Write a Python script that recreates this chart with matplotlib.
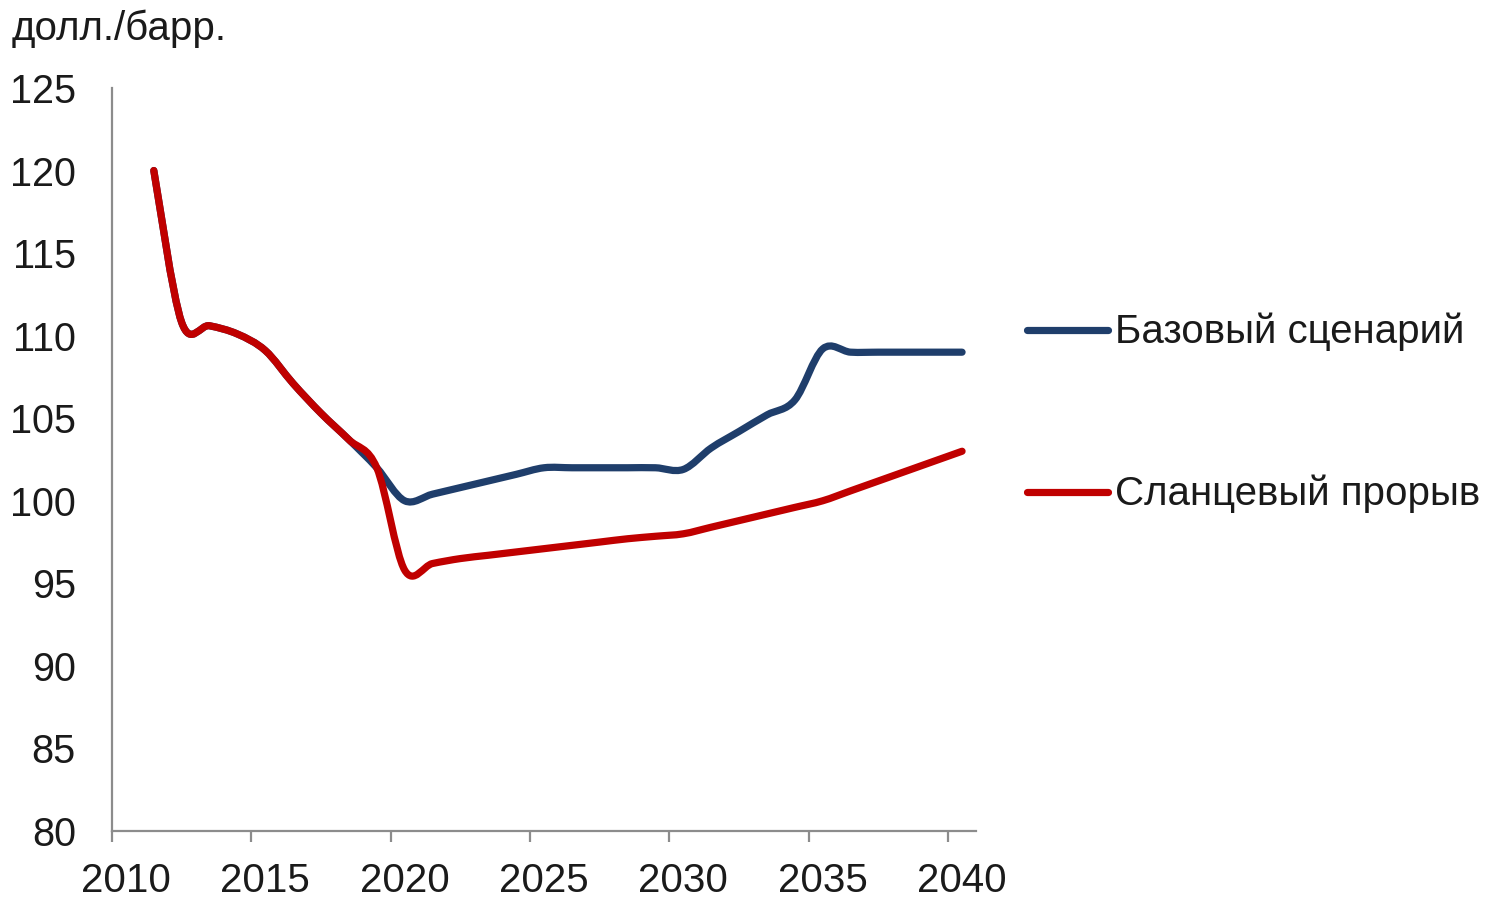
import matplotlib
matplotlib.use("Agg")
import matplotlib.pyplot as plt
from matplotlib.path import Path
from matplotlib.patches import PathPatch
from matplotlib.lines import Line2D
import numpy as np

plt.rcParams['font.family'] = ['Liberation Sans', 'DejaVu Sans']

years = list(range(2011, 2041))
base = [120.0, 110.8, 110.6, 110.1, 109.1, 107.1, 105.3, 103.7, 102.0,
        100.0, 100.4, 100.8, 101.2, 101.6, 102.0, 102.0, 102.0, 102.0, 102.0,
        101.9, 103.2, 104.2, 105.2, 106.1, 109.2, 109.0, 109.0, 109.0, 109.0, 109.0]
shale = [120.0, 110.8, 110.6, 110.1, 109.1, 107.1, 105.3, 103.7, 102.0,
         95.8, 96.2, 96.5, 96.7, 96.9, 97.1, 97.3, 97.5, 97.7, 97.85,
         98.0, 98.4, 98.8, 99.2, 99.6, 100.0, 100.6, 101.2, 101.8, 102.4, 103.0]
series_names = ["Базовый сценарий", "Сланцевый прорыв"]
colors = ["#1F3E6B", "#C00000"]
xtick_years = [2010, 2015, 2020, 2025, 2030, 2035, 2040]
yticks = [80, 85, 90, 95, 100, 105, 110, 115, 120, 125]

W, H = 1487, 898
fig = plt.figure(figsize=(W / 100, H / 100), dpi=100)
ax = fig.add_axes([112 / W, 1 - 831 / H, (976 - 112) / W, (831 - 88) / H])


def smooth_path(xs, ys):
    pts = np.column_stack([xs, ys]).astype(float)
    n = len(pts)
    verts = [pts[0]]
    codes = [Path.MOVETO]
    for i in range(n - 1):
        p0 = pts[i - 1] if i > 0 else pts[i]
        p1 = pts[i]
        p2 = pts[i + 1]
        p3 = pts[i + 2] if i + 2 < n else pts[i + 1]
        c1 = p1 + (p2 - p0) / 6.0
        c2 = p2 - (p3 - p1) / 6.0
        verts += [c1, c2, p2]
        codes += [Path.CURVE4] * 3
    return Path(verts, codes)


LW = 5.2
xs = np.array(years) + 0.5
for vals, col in zip([base, shale], colors):
    patch = PathPatch(smooth_path(xs, vals), facecolor='none', edgecolor=col,
                      lw=LW, capstyle='round', joinstyle='round')
    ax.add_patch(patch)

ax.set_xlim(2010, 2041)
ax.set_ylim(80, 125)

for s in ['top', 'right']:
    ax.spines[s].set_visible(False)
for s in ['left', 'bottom']:
    ax.spines[s].set_color('#8C8C8C')
    ax.spines[s].set_linewidth(1.6)

FS = 29
ax.set_yticks(yticks)
ax.set_yticklabels([str(v) for v in yticks], fontsize=FS - 0.5, color='#1a1a1a')
ax.tick_params(axis='y', length=0, pad=26)

ax.set_xticks(xtick_years)
ax.set_xticklabels([])
ax.tick_params(axis='x', which='major', length=8, width=1.6, color='#8C8C8C')
ax.set_xticks([y + 0.5 for y in xtick_years], minor=True)
ax.set_xticklabels([str(y) for y in xtick_years], minor=True, fontsize=FS, color='#1a1a1a')
ax.tick_params(axis='x', which='minor', length=0, pad=22)

fig.text(12 / W, 1 - 29 / H, "долл./барр.", fontsize=FS, color='#1a1a1a',
         ha='left', va='center')

leg_y = [330, 492]
for name, col, yy in zip(series_names, colors, leg_y):
    fig.add_artist(Line2D([1027 / W, 1108 / W], [1 - yy / H, 1 - yy / H],
                          color=col, lw=LW, solid_capstyle='round'))
    fig.text(1115 / W, 1 - (yy + 2) / H, name, fontsize=FS, color='#1a1a1a',
             ha='left', va='center')

fig.savefig("out.png", dpi=100)
